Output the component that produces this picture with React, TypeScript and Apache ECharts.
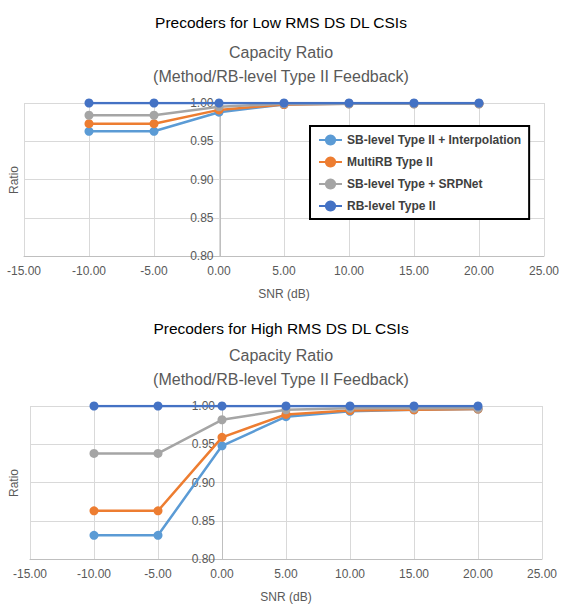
import React, { useEffect, useRef } from "react";
import * as echarts from "echarts";

const snr = [-10, -5, 0, 5, 10, 15, 20];
const seriesNames = [
  "SB-level Type II + Interpolation",
  "MultiRB Type II",
  "SB-level Type + SRPNet",
  "RB-level Type II",
];
const colors = ["#5B9BD5", "#ED7D31", "#A5A5A5", "#4472C4"];

const lowSbInterp = [0.963, 0.963, 0.988, 0.998, 0.999, 0.999, 0.999];
const lowMultiRb = [0.973, 0.973, 0.991, 0.998, 0.999, 0.999, 0.999];
const lowSrpNet = [0.984, 0.984, 0.995, 0.999, 0.999, 0.999, 0.999];
const lowRb = [1, 1, 1, 1, 1, 1, 1];

const highSbInterp = [0.831, 0.831, 0.948, 0.986, 0.993, 0.995, 0.996];
const highMultiRb = [0.863, 0.863, 0.959, 0.989, 0.994, 0.995, 0.996];
const highSrpNet = [0.938, 0.938, 0.982, 0.995, 0.997, 0.997, 0.997];
const highRb = [1, 1, 1, 1, 1, 1, 1];

const xTicks = { min: -15, max: 25, interval: 5 };
const yTicks = { min: 0.8, max: 1.0, interval: 0.05 };
const yCrossAt = 0;

const FONT = "Liberation Sans";

const grids = [
  { left: 24, top: 103, width: 524, height: 153 },
  { left: 30, top: 406, width: 512, height: 153 },
];

function makeAxes(gridIndex: number) {
  const g = grids[gridIndex];
  const crossPx = ((yCrossAt - xTicks.min) / (xTicks.max - xTicks.min)) * g.width;
  const xAxis = {
    type: "value",
    gridIndex,
    min: xTicks.min,
    max: xTicks.max,
    interval: xTicks.interval,
    name: "SNR (dB)",
    nameLocation: "middle",
    nameGap: 32,
    nameTextStyle: { color: "#595959", fontSize: 12, fontFamily: FONT },
    axisLine: { onZero: false, lineStyle: { color: "#bfbfbf", width: 1 } },
    axisTick: { show: false },
    axisLabel: {
      color: "#595959",
      fontSize: 12,
      fontFamily: FONT,
      margin: 9,
      formatter: (v: number) => v.toFixed(2),
    },
    splitLine: { show: true, lineStyle: { color: "#d9d9d9", width: 1 } },
  };
  const yAxis = {
    type: "value",
    gridIndex,
    min: yTicks.min,
    max: yTicks.max,
    interval: yTicks.interval,
    position: "left",
    offset: -crossPx,
    axisLine: { show: true, onZero: false, lineStyle: { color: "#bfbfbf", width: 1 } },
    axisTick: { show: false },
    axisLabel: {
      color: "#595959",
      fontSize: 12,
      fontFamily: FONT,
      margin: 7,
      formatter: (v: number) => v.toFixed(2),
    },
    splitLine: { show: true, lineStyle: { color: "#d9d9d9", width: 1 } },
  };
  return { xAxis, yAxis };
}

function makeSeries(idx: number, values: number[][]) {
  return values.map((vals, i) => ({
    type: "line",
    name: seriesNames[i],
    xAxisIndex: idx,
    yAxisIndex: idx,
    data: snr.map((x, k) => [x, vals[k]]),
    symbol: "circle",
    symbolSize: 9,
    lineStyle: { width: 2.5, color: colors[i] },
    itemStyle: { color: colors[i] },
    z: 2 + i,
  }));
}

export default function App() {
  const ref = useRef<HTMLDivElement>(null);
  useEffect(() => {
    if (!ref.current) return;
    const chart = echarts.init(ref.current, null, { renderer: "svg" });
    const a0 = makeAxes(0);
    const a1 = makeAxes(1);
    chart.setOption({
      animation: false,
      backgroundColor: "#ffffff",
      title: [
        {
          text: "Precoders for Low RMS DS DL CSIs",
          left: "center",
          top: 9,
          textStyle: { fontSize: 15.5, fontWeight: "normal", color: "#000", fontFamily: FONT },
        },
        {
          text: "Capacity Ratio\n(Method/RB-level Type II Feedback)",
          left: "center",
          top: 35,
          textStyle: { fontSize: 16, fontWeight: "normal", color: "#595959", fontFamily: FONT, lineHeight: 24 },
        },
        {
          text: "Precoders for High RMS DS DL CSIs",
          left: "center",
          top: 315,
          textStyle: { fontSize: 15.5, fontWeight: "normal", color: "#000", fontFamily: FONT },
        },
        {
          text: "Capacity Ratio\n(Method/RB-level Type II Feedback)",
          left: "center",
          top: 338,
          textStyle: { fontSize: 16, fontWeight: "normal", color: "#595959", fontFamily: FONT, lineHeight: 24 },
        },
      ],
      legend: {
        data: seriesNames,
        orient: "vertical",
        left: 310,
        top: 126,
        itemWidth: 23,
        itemHeight: 14,
        itemGap: 10,
        padding: [8, 8, 7, 8],
        borderColor: "#000",
        borderWidth: 2,
        backgroundColor: "#fff",
        textStyle: { fontSize: 12, fontWeight: "bold", color: "#404040", fontFamily: FONT },
        z: 10,
      },
      grid: grids,
      xAxis: [a0.xAxis, a1.xAxis],
      yAxis: [a0.yAxis, a1.yAxis],
      graphic: [
        {
          type: "text",
          x: 14,
          y: 180,
          rotation: Math.PI / 2,
          style: { text: "Ratio", fill: "#595959", fontSize: 12, fontFamily: FONT, align: "center", verticalAlign: "middle" },
        },
        {
          type: "text",
          x: 14,
          y: 483,
          rotation: Math.PI / 2,
          style: { text: "Ratio", fill: "#595959", fontSize: 12, fontFamily: FONT, align: "center", verticalAlign: "middle" },
        },
      ],
      series: [
        ...makeSeries(0, [lowSbInterp, lowMultiRb, lowSrpNet, lowRb]),
        ...makeSeries(1, [highSbInterp, highMultiRb, highSrpNet, highRb]),
      ],
    });
    return () => chart.dispose();
  }, []);
  return (
    <div
      ref={ref}
      style={{ position: "fixed", left: 0, top: 0, width: 562, height: 604 }}
    />
  );
}
